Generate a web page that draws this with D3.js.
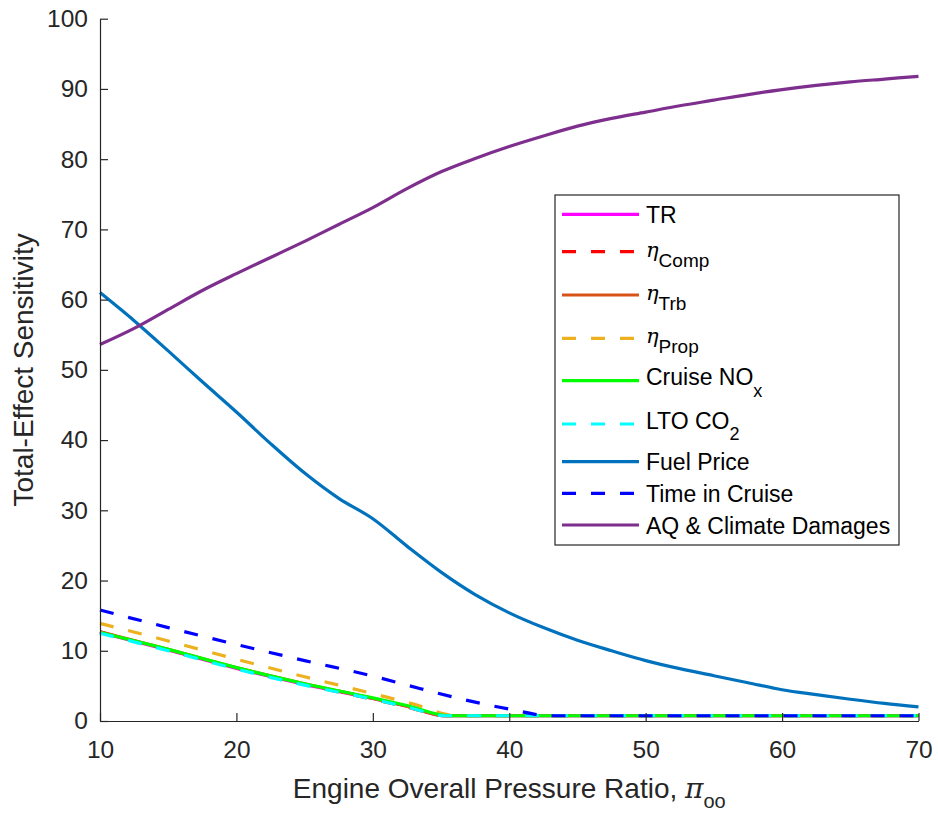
<!DOCTYPE html>
<html>
<head>
<meta charset="utf-8">
<script src="https://cdn.jsdelivr.net/npm/d3@7"></script>
<style>
  body { margin: 0; background: #fff; }
  svg { display: block; font-family: "Liberation Sans", Arial, Helvetica, sans-serif; }
  .tick text { font-size: 24.5px; fill: #262626; }
  .axis path, .axis line { stroke: #262626; stroke-width: 1.2; }
</style>
</head>
<body>
<div class="chart"></div>
<script>
// shared x grid for the two big curves
var opr = [10, 12.5, 15, 17.5, 20, 22.5, 25, 27.5, 30, 32.5, 35, 37.5, 40,
  42.5, 45, 47.5, 50, 52.5, 55, 57.5, 60, 62.5, 65, 67.5, 70];
var fuelPrice = [61.0, 57.0, 52.7, 48.3, 44.0, 39.5, 35.3, 31.7, 28.8, 24.9, 21.2, 18.0, 15.4,
  13.3, 11.5, 10.0, 8.6, 7.45, 6.45, 5.45, 4.45, 3.75, 3.1, 2.5, 2.0];
var aqClimate = [53.6, 55.9, 58.6, 61.3, 63.7, 66.0, 68.3, 70.7, 73.1, 75.8, 78.2, 80.1, 81.8,
  83.3, 84.7, 85.8, 86.7, 87.6, 88.4, 89.2, 89.9, 90.5, 91.0, 91.4, 91.8];

// the low curves, each on its own grid
var lowX = [10, 15, 20, 25, 30, 32.5, 35.3, 70];
var trVals = [12.6, 10.1, 7.5, 5.2, 3.2, 2.1, 0.75, 0.75];
var compVals = [12.7, 10.1, 7.5, 5.2, 3.1, 2.0, 0.75, 0.75];
var trbVals = [12.7, 10.2, 7.6, 5.3, 3.2, 2.1, 0.75, 0.75];
var noxX = [10, 15, 20, 25, 30, 32.5, 35.6, 70];
var noxVals = [12.6, 10.2, 7.6, 5.3, 3.3, 2.2, 0.75, 0.75];
var ltoVals = [12.5, 10.0, 7.4, 5.1, 3.1, 2.0, 0.75, 0.75];
var propX = [10, 15, 20, 25, 30, 33, 36.2, 70];
var propVals = [13.9, 11.4, 8.8, 6.3, 3.9, 2.4, 0.75, 0.75];
var cruiseX = [10, 15, 20, 25, 30, 33.5, 37, 40, 43, 70];
var cruiseVals = [15.8, 13.3, 10.9, 8.6, 6.4, 4.6, 2.9, 1.7, 0.75, 0.75];

var xTicks = [10, 20, 30, 40, 50, 60, 70];
var yTicks = [0, 10, 20, 30, 40, 50, 60, 70, 80, 90, 100];

var series = [
  { name: "TR", sub: "", eta: false, color: "#FF00FF", dash: false, x: lowX, y: trVals },
  { name: "", sub: "Comp", eta: true, color: "#FF0000", dash: true, x: lowX, y: compVals },
  { name: "", sub: "Trb", eta: true, color: "#D95319", dash: false, x: lowX, y: trbVals },
  { name: "", sub: "Prop", eta: true, color: "#EDB120", dash: true, x: propX, y: propVals },
  { name: "Cruise NO", sub: "x", eta: false, color: "#00FF00", dash: false, x: noxX, y: noxVals },
  { name: "LTO CO", sub: "2", eta: false, color: "#00FFFF", dash: true, x: lowX, y: ltoVals },
  { name: "Fuel Price", sub: "", eta: false, color: "#0072BD", dash: false, x: opr, y: fuelPrice, smooth: true },
  { name: "Time in Cruise", sub: "", eta: false, color: "#0000FF", dash: true, x: cruiseX, y: cruiseVals },
  { name: "AQ & Climate Damages", sub: "", eta: false, color: "#7E2F8E", dash: false, x: opr, y: aqClimate, smooth: true }
];

var svgWidth = 938;
var svgHeight = 818;
var margin = { top: 18.7, right: 19.5, bottom: 97, left: 100 };
var width = svgWidth - margin.left - margin.right;
var height = svgHeight - margin.top - margin.bottom;

var svg = d3.select(".chart")
  .append("svg")
  .attr("width", svgWidth)
  .attr("height", svgHeight);

var chart = svg.append("g")
  .attr("transform", "translate(" + margin.left + "," + margin.top + ")");

var xScale = d3.scaleLinear().domain([10, 70]).range([0, width]);
var yScale = d3.scaleLinear().domain([0, 100]).range([height, 0]);

var line = d3.line()
  .x(function(d) { return xScale(d[0]); })
  .y(function(d) { return yScale(d[1]); });

var dashPattern = "14,15";

series.forEach(function(s) {
  var pts = s.x.map(function(v, i) { return [v, s.y[i]]; });
  line.curve(s.smooth ? d3.curveCatmullRom.alpha(0.5) : d3.curveMonotoneX);
  chart.append("path")
    .datum(pts)
    .attr("d", line)
    .attr("fill", "none")
    .attr("stroke", s.color)
    .attr("stroke-width", 3.2)
    .attr("stroke-dasharray", s.dash ? dashPattern : null);
});

chart.append("g")
  .attr("class", "axis")
  .attr("transform", "translate(0," + height + ")")
  .call(d3.axisBottom(xScale).tickValues(xTicks).tickSizeInner(-8).tickSizeOuter(0).tickPadding(20))
  .call(function(g) { g.selectAll(".tick text").attr("y", 20); });

chart.append("g")
  .attr("class", "axis")
  .call(d3.axisLeft(yScale).tickValues(yTicks).tickSizeInner(-8).tickSizeOuter(0).tickPadding(12))
  .call(function(g) { g.selectAll(".tick text").attr("x", -12); });

// axis labels
var xLabel = svg.append("text")
  .attr("x", margin.left + width / 2)
  .attr("y", 798)
  .attr("text-anchor", "middle")
  .attr("font-size", "28px")
  .attr("fill", "#262626");
xLabel.append("tspan").text("Engine Overall Pressure Ratio, ");
xLabel.append("tspan").attr("font-family", "DejaVu Serif").attr("font-style", "italic").text("\u03C0");
xLabel.append("tspan").attr("dy", 10).attr("font-size", "20px").text("oo");

svg.append("text")
  .attr("transform", "translate(32.5," + (margin.top + height / 2) + ") rotate(-90)")
  .attr("text-anchor", "middle")
  .attr("font-size", "28px")
  .attr("fill", "#262626")
  .text("Total-Effect Sensitivity");

// legend
var legendBox = { x: 555, y: 195, w: 344, h: 350 };
var legendRowY = [214.3, 251.7, 295, 338.3, 380.7, 424, 461.7, 493.3, 525];

var legend = svg.append("g");
legend.append("rect")
  .attr("x", legendBox.x).attr("y", legendBox.y)
  .attr("width", legendBox.w).attr("height", legendBox.h)
  .attr("fill", "#fff")
  .attr("stroke", "#262626")
  .attr("stroke-width", 1.2);

series.forEach(function(s, i) {
  var ly = legendRowY[i];
  legend.append("line")
    .attr("x1", 562).attr("x2", 639)
    .attr("y1", ly).attr("y2", ly)
    .attr("stroke", s.color)
    .attr("stroke-width", 3.2)
    .attr("stroke-dasharray", s.dash ? dashPattern : null);

  var t = legend.append("text")
    .attr("x", 646)
    .attr("font-size", "23px")
    .attr("fill", "#000");
  if (s.eta) {
    t.attr("y", ly + 5);
    t.append("tspan").attr("font-family", "DejaVu Serif").attr("font-style", "italic")
      .attr("font-size", "21px").text("\u03B7");
    t.append("tspan").attr("dy", 10).attr("font-size", "19px").text(s.sub);
  } else if (s.sub) {
    t.attr("y", ly + 4.5);
    t.append("tspan").text(s.name);
    t.append("tspan").attr("dy", 11.5).attr("font-size", "18px").text(s.sub);
  } else {
    t.attr("y", ly + 8.5).text(s.name);
  }
});
</script>
</body>
</html>
